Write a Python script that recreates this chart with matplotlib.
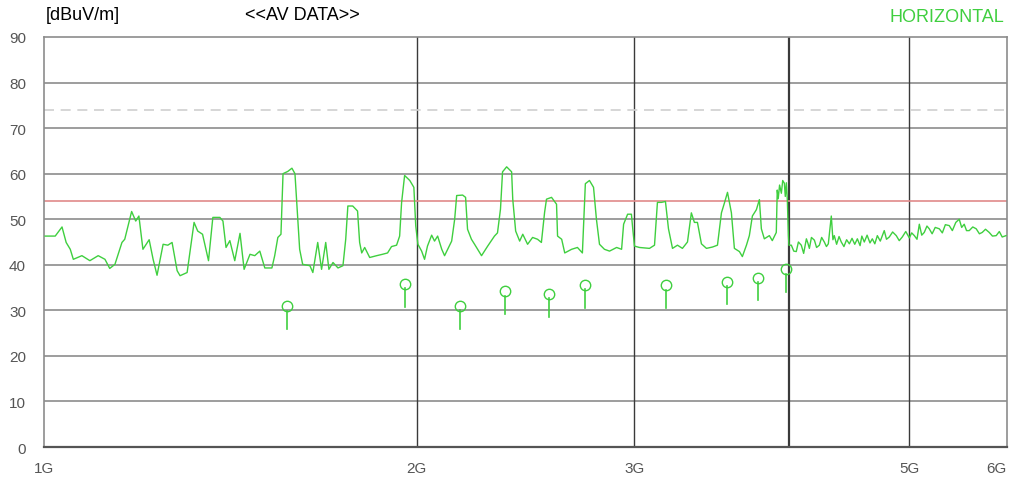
import matplotlib.pyplot as plt
import numpy as np

# AV trace, frequency in MHz and level in dBuV/m
freq_mhz = [1002, 1021, 1034, 1042, 1050, 1056, 1073, 1089, 1106, 1120, 1130, 1141, 1156, 1162,
            1177, 1186, 1193, 1202, 1216, 1225, 1234, 1248, 1259, 1269, 1281, 1288, 1305, 1322,
            1331, 1343, 1358, 1369, 1387, 1395, 1403, 1413, 1426, 1440, 1451, 1467, 1480, 1494,
            1508, 1528, 1536, 1545, 1554, 1560, 1574, 1586, 1595, 1603, 1609, 1618, 1640, 1649,
            1664, 1676, 1689, 1699, 1712, 1728, 1744, 1753, 1760, 1776, 1792, 1799, 1806, 1816,
            1833, 1857, 1877, 1895, 1909, 1927, 1938, 1945, 1956, 1975, 1990, 1997, 2005, 2019,
            2030, 2041, 2057, 2068, 2080, 2096, 2107, 2135, 2147, 2155, 2179, 2191, 2199, 2215,
            2228, 2257, 2283, 2312, 2325, 2338, 2347, 2365, 2387, 2392, 2405, 2423, 2437, 2459,
            2482, 2505, 2523, 2538, 2547, 2571, 2595, 2600, 2620, 2635, 2669, 2698, 2723, 2738,
            2759, 2780, 2795, 2811, 2837, 2864, 2902, 2929, 2940, 2962, 2983, 2989, 3000, 3028,
            3085, 3114, 3131, 3155, 3178, 3196, 3220, 3250, 3280, 3311, 3323, 3335, 3354, 3373,
            3398, 3430, 3469, 3501, 3527, 3547, 3567, 3593, 3613, 3647, 3667, 3695, 3715, 3736,
            3764, 3785, 3799, 3820, 3856, 3877, 3906, 3913, 3920, 3930, 3943, 3953, 3965, 3972,
            3980, 3987, 3995, 3999, 4017, 4035, 4054, 4070, 4092, 4110, 4131, 4142, 4154, 4170,
            4193, 4210, 4232, 4250, 4271, 4288, 4303, 4327, 4340, 4351, 4370, 4390, 4408, 4430,
            4452, 4475, 4497, 4520, 4542, 4565, 4580, 4601, 4625, 4650, 4670, 4692, 4714, 4740,
            4775, 4795, 4820, 4850, 4883, 4910, 4938, 4970, 5003, 5025, 5050, 5075, 5097, 5120,
            5144, 5170, 5192, 5220, 5250, 5290, 5320, 5350, 5389, 5420, 5455, 5490, 5515, 5541,
            5565, 5593, 5630, 5666, 5700, 5730, 5765, 5805, 5840, 5881, 5915, 5947, 5990]
level = [46.3, 46.3, 48.3, 44.9, 43.4, 41.2, 42.0, 40.9, 42.0, 41.2, 39.2, 40.1, 44.9, 45.6,
         51.7, 49.6, 50.7, 43.4, 45.5, 41.2, 37.7, 44.5, 44.3, 44.9, 38.7, 37.6, 38.3, 49.3,
         47.4, 46.7, 40.9, 50.4, 50.4, 49.6, 43.8, 45.3, 40.9, 46.9, 39.0, 42.3, 42.0, 43.0,
         39.3, 39.3, 42.0, 46.0, 46.7, 60.0, 60.5, 61.2, 60.0, 50.7, 43.4, 40.1, 39.8, 38.3,
         44.9, 39.0, 44.9, 39.0, 40.5, 39.3, 39.8, 45.6, 52.9, 52.9, 51.8, 44.9, 42.6, 43.8,
         41.6, 42.0, 42.3, 42.6, 44.0, 44.3, 46.3, 53.6, 59.6, 58.5, 57.0, 48.5, 44.5, 43.0,
         41.2, 44.1, 46.5, 45.2, 46.3, 43.4, 42.0, 45.2, 50.0, 55.2, 55.3, 54.8, 47.8, 45.6,
         44.5, 42.0, 44.1, 46.3, 47.0, 52.2, 60.4, 61.5, 60.4, 54.4, 47.4, 45.2, 46.7, 44.5,
         46.0, 45.6, 44.9, 51.5, 54.4, 54.8, 53.3, 46.3, 45.6, 42.6, 43.4, 43.8, 42.6, 57.8,
         58.5, 57.0, 50.0, 44.5, 43.4, 43.0, 43.8, 43.4, 48.9, 51.1, 51.1, 48.5, 44.1, 43.8,
         43.6, 44.3, 53.7, 53.7, 53.9, 47.9, 43.6, 44.3, 43.6, 45.0, 48.2, 51.4, 49.3, 49.3,
         44.6, 43.6, 43.9, 44.3, 51.4, 53.6, 55.9, 51.4, 43.6, 42.9, 41.8, 44.3, 46.4, 50.7,
         52.1, 54.3, 47.9, 45.7, 46.4, 45.3, 47.1, 56.4, 54.5, 57.5, 55.7, 58.5, 57.9, 55.0,
         58.0, 54.3, 46.4, 44.3, 44.3, 43.0, 42.9, 45.0, 44.3, 42.5, 45.7, 44.8, 43.6, 46.0,
         45.4, 43.8, 44.3, 46.0, 45.0, 44.0, 44.6, 50.7, 45.5, 46.4, 44.5, 46.2, 45.0, 44.0,
         45.5, 44.6, 45.8, 44.5, 45.7, 44.2, 46.3, 45.0, 46.5, 44.8, 45.7, 44.6, 46.4, 45.2,
         47.5, 45.6, 46.1, 47.2, 46.4, 45.3, 46.1, 47.3, 45.9, 47.0, 46.4, 45.6, 48.9, 46.5,
         47.1, 48.5, 47.9, 46.8, 48.2, 47.9, 47.0, 48.8, 48.6, 47.5, 49.3, 50.0, 48.2, 48.9,
         47.5, 47.5, 48.3, 47.9, 46.8, 47.1, 47.8, 47.1, 46.3, 46.4, 47.3, 46.1, 46.4]

# measured AV points (circle markers with stems)
mark_mhz = [1571, 1956, 2167, 2356, 2561, 2738, 3183, 3565, 3777, 3979]
mark_level = [30.9, 35.8, 31.0, 34.2, 33.6, 35.6, 35.5, 36.3, 37.2, 39.0]

limit_av = 54
limit_pk = 74

x_ticks = [1000, 2000, 3000, 5000, 6000]
x_labels = ['1G', '2G', '3G', '5G', '6G']
y_ticks = list(range(0, 100, 10))

green = '#3fcf3f'

fig = plt.figure(figsize=(10.22, 4.81), dpi=100)
ax = fig.add_axes([0.0431, 0.0686, 0.9422, 0.8524])

ax.set_xscale('log')
ax.set_xlim(1000, 6000)
ax.set_ylim(0, 90)

for y in y_ticks[1:-1]:
    ax.axhline(y, color='#8c8c8c', lw=1.2, zorder=1)
for xv in [2000, 3000, 5000]:
    ax.axvline(xv, color='#3a3a3a', lw=1.0, zorder=1)
ax.axvline(4000, color='#3a3a3a', lw=1.6, zorder=1)

ax.axhline(limit_av, color='#e08a8a', lw=1.2, zorder=2)
ax.axhline(limit_pk, color='#cfcfcf', lw=1.2, ls=(0, (6, 4)), zorder=2)

ax.plot(freq_mhz, level, color=green, lw=1.0, zorder=3)

for f, v in zip(mark_mhz, mark_level):
    ax.plot([f, f], [v - 1.0, v - 5.0], color=green, lw=1.2, zorder=3)
ax.plot(mark_mhz, mark_level, 'o', mfc='none', mec=green, ms=7.5, mew=1.0, zorder=3)

ax.set_xticks(x_ticks)
ax.set_xticklabels(x_labels)
ax.xaxis.set_minor_locator(plt.NullLocator())
ax.set_yticks(y_ticks)
ax.tick_params(axis='both', length=0, labelsize=11, labelcolor='#555555')
ax.tick_params(axis='x', pad=10)
ax.tick_params(axis='y', pad=13)
for lab in ax.get_xticklabels():
    lab.set_fontfamily('Liberation Sans')
    if lab.get_text() == '6G':
        lab.set_horizontalalignment('right')
for lab in ax.get_yticklabels():
    lab.set_fontfamily('Liberation Sans')

for side in ['left', 'top', 'right']:
    ax.spines[side].set_color('#8c8c8c')
    ax.spines[side].set_linewidth(1.2)
ax.spines['bottom'].set_color('#555555')
ax.spines['bottom'].set_linewidth(1.6)

fig.text(0.0445, 0.968, '[dBuV/m]', fontsize=13, family='Liberation Sans', va='center')
fig.text(0.296, 0.968, '<<AV DATA>>', fontsize=13, family='Liberation Sans', va='center', ha='center')
fig.text(0.983, 0.963, 'HORIZONTAL', fontsize=13, family='Liberation Sans', va='center', ha='right',
         color=green)

plt.savefig('out.png', dpi=100)
